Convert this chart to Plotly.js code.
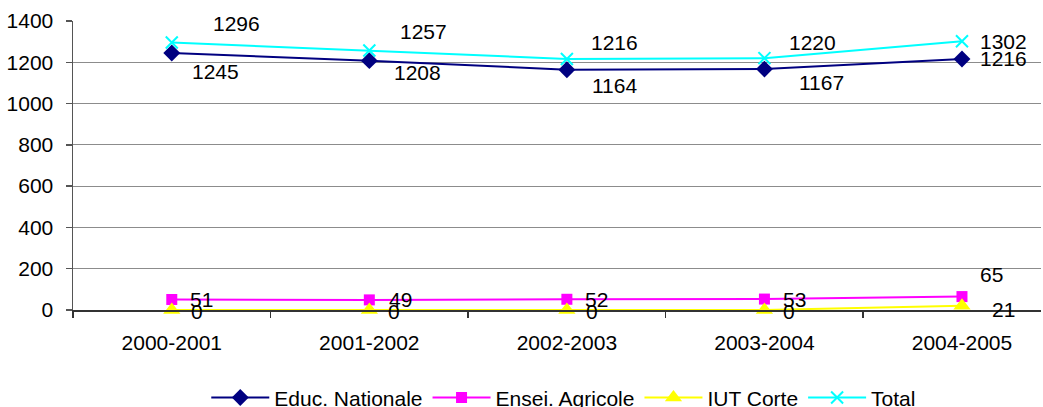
<!DOCTYPE html>
<html>
<head>
<meta charset="utf-8">
<script src="https://cdn.plot.ly/plotly-3.0.1.min.js"></script>
<style>html,body{margin:0;padding:0;background:#fff;}#chart{width:1043px;height:407px;}</style>
</head>
<body>
<div id="chart"></div>
<script>
const categories = ["2000-2001", "2001-2002", "2002-2003", "2003-2004", "2004-2005"];
const educNationale = [1245, 1208, 1164, 1167, 1216];
const enseiAgricole = [51, 49, 52, 53, 65];
const iutCorte = [0, 0, 0, 0, 21];
const total = [1296, 1257, 1216, 1220, 1302];
const seriesNames = ["Educ. Nationale", "Ensei. Agricole", "IUT Corte", "Total"];
const yTicks = [0, 200, 400, 600, 800, 1000, 1200, 1400];

// label offsets in pixels [dx, dy(down)] -- styling only
const labelOffsets = [
  [[44, 18], [48, 12], [48, 16], [57, 13], [42, 0]],
  [[30, 0], [31, 0], [30, 0], [30, 0], [30, -22]],
  [[25, 1], [25, 1], [25, 1], [25, 1], [42, 4]],
  [[65, -19], [54, -19], [48, -16], [48, -16], [42, 0]]
];

const FONT = "Liberation Sans, Arial, sans-serif";
const FS = 21;
const seriesData = [educNationale, enseiAgricole, iutCorte, total];
const colors = ["#000080", "#FF00FF", "#FFFF00", "#00FFFF"];
const markers = [
  {symbol: "diamond", size: 13, color: "#000080"},
  {symbol: "square", size: 11, color: "#FF00FF"},
  {symbol: "triangle-up", size: 15, color: "#FFFF00"},
  {symbol: "x-thin", size: 12, color: "#00FFFF", line: {color: "#00FFFF", width: 2}}
];

const traces = seriesData.map((vals, i) => ({
  type: "scatter",
  mode: "lines+markers",
  name: seriesNames[i],
  x: categories,
  y: vals,
  line: {color: colors[i], width: 2},
  marker: markers[i],
  cliponaxis: false
}));

const annotations = [];
seriesData.forEach((vals, i) => {
  vals.forEach((v, j) => {
    annotations.push({
      x: categories[j], y: v, xref: "x", yref: "y",
      text: String(v), showarrow: false,
      xshift: labelOffsets[i][j][0], yshift: -labelOffsets[i][j][1],
      font: {family: FONT, size: FS, color: "#000"}
    });
  });
});

const layout = {
  width: 1043, height: 407,
  paper_bgcolor: "#fff", plot_bgcolor: "#fff",
  margin: {l: 73, r: 2, t: 21, b: 97, autoexpand: false},
  font: {family: FONT, size: FS, color: "#000"},
  showlegend: true,
  legend: {
    orientation: "h", x: 0.507, xanchor: "center", y: -0.304, yanchor: "middle",
    font: {family: FONT, size: FS, color: "#000"},
    bgcolor: "rgba(0,0,0,0)", itemwidth: 58, tracegroupgap: 0
  },
  xaxis: {
    type: "category",
    range: [-0.5, 4.4],
    tickvals: categories,
    ticktext: categories,
    tickson: "boundaries",
    ticks: "outside", ticklen: 6, tickcolor: "#333", tickwidth: 1.5,
    showline: true, linecolor: "#333", linewidth: 1.5,
    showgrid: false, zeroline: false,
    ticklabelstandoff: 13,
    tickfont: {family: FONT, size: FS, color: "#000"}
  },
  yaxis: {
    range: [0, 1400],
    tickvals: yTicks,
    ticks: "outside", ticklen: 6, tickcolor: "#555", tickwidth: 1.5,
    showline: true, linecolor: "#555", linewidth: 1.5,
    showgrid: true, gridcolor: "#8c8c8c", gridwidth: 1,
    zeroline: false,
    ticklabelstandoff: 8,
    tickfont: {family: FONT, size: FS, color: "#000"}
  },
  annotations: annotations
};

Plotly.newPlot("chart", traces, layout, {displayModeBar: false, staticPlot: true});
</script>
</body>
</html>
